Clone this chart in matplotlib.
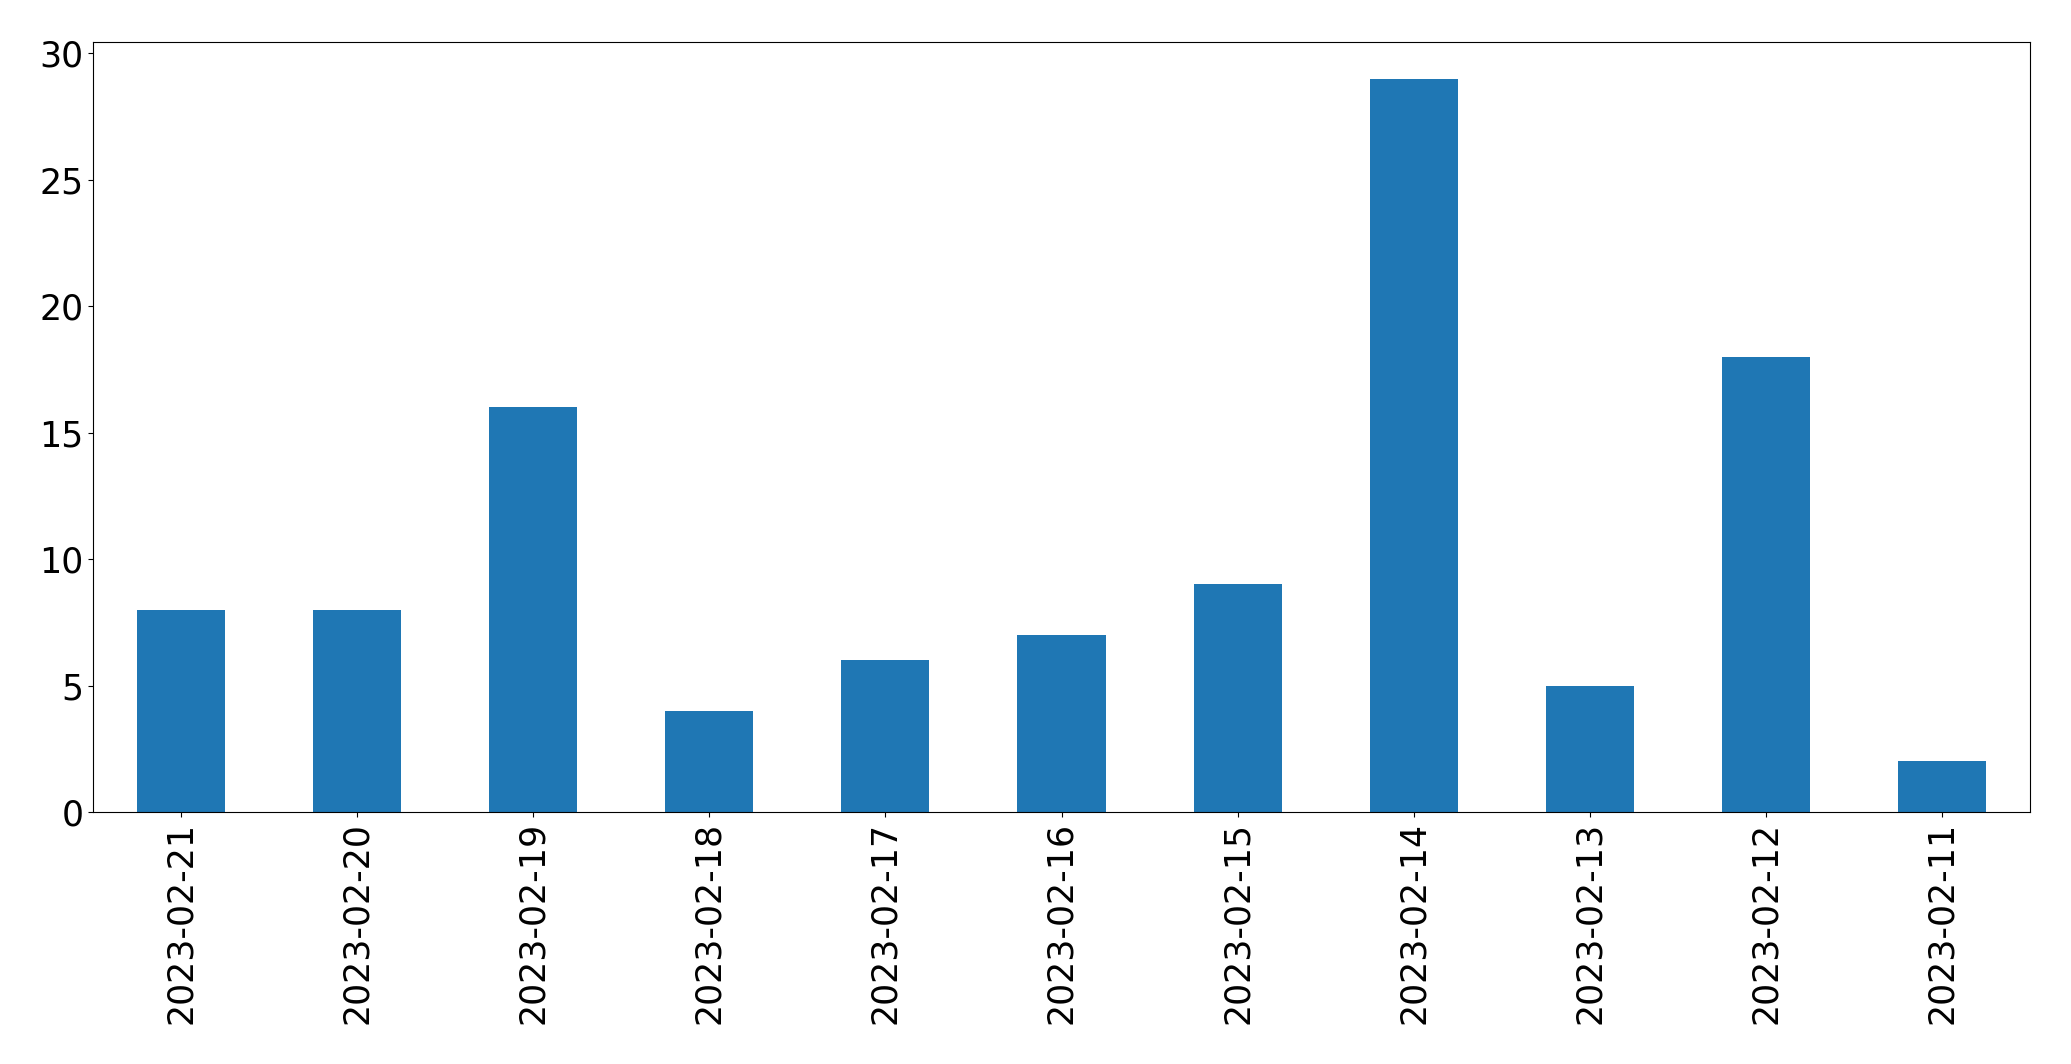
import matplotlib
matplotlib.use("Agg")
import matplotlib.pyplot as plt
import pandas as pd

dates = ["2023-02-21", "2023-02-20", "2023-02-19", "2023-02-18", "2023-02-17",
         "2023-02-16", "2023-02-15", "2023-02-14", "2023-02-13", "2023-02-12", "2023-02-11"]
counts = [8, 8, 16, 4, 6, 7, 9, 29, 5, 18, 2]

s = pd.Series(counts, index=dates)
fig = plt.figure(figsize=(20.71, 10.64), dpi=100)
ax = fig.add_axes([93/2071, 1 - 812/1064, (2030-93)/2071, (812-42)/1064])
s.plot.bar(ax=ax, color="#1f77b4")
ax.tick_params(labelsize=25)
fig.savefig("out.png", dpi=100)
